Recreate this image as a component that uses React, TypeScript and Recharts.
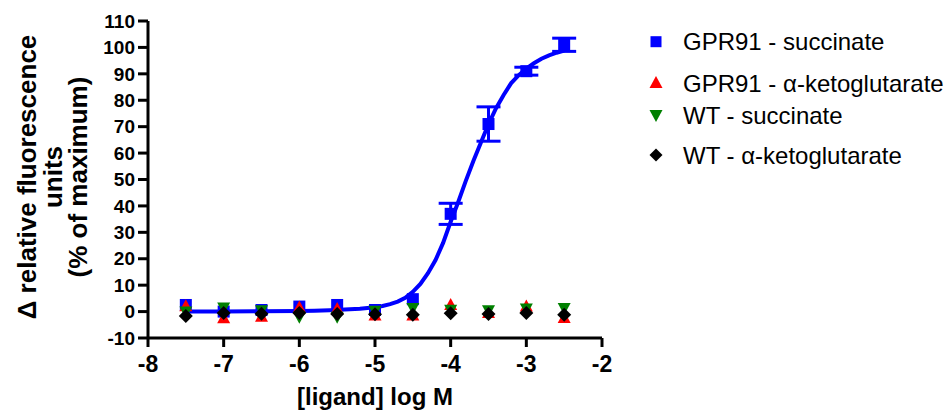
import React from 'react';
import { ScatterChart, Scatter, XAxis, YAxis, ErrorBar, Legend } from 'recharts';

const logConc = [-7.5, -7, -6.5, -6, -5.5, -5, -4.5, -4, -3.5, -3, -2.5];
const gprSuccinate = [2.5, 0, 0.6, 1.9, 2.5, 0.6, 4.7, 37, 71, 91, 101];
const gprSuccinateErr = [0, 0, 0, 0, 0, 0, 0, 4, 6.5, 1.5, 2.5];
const gprAkg = [2, -2.5, -2, 1.5, 1, -1.5, -1.5, 2.5, -0.5, 1.9, -2.4];
const wtSuccinate = [0, 1.5, 0.5, -2, -2, 0.3, 1.4, 0.7, 0.5, 1.2, 1.4];
const wtAkg = [-1.7, -0.5, -0.8, -0.5, -0.9, -1, -1.2, -0.6, -0.9, -0.5, -1.2];

const curveX = [-7.5, -7, -6.5, -6, -5.8, -5.6, -5.4, -5.2, -5, -4.9, -4.8, -4.7, -4.6, -4.5, -4.4, -4.3, -4.2, -4.1, -4.0, -3.9, -3.8, -3.7, -3.6, -3.5, -3.4, -3.3, -3.2, -3.1, -3.0, -2.9, -2.8, -2.7, -2.6, -2.5];
const curveY = [0, 0, 0.1, 0.2, 0.3, 0.5, 0.8, 1.1, 1.6, 2.1, 2.8, 3.8, 5.2, 7.5, 10.5, 14.5, 19.5, 26, 34, 41.5, 49.5, 57, 64, 71, 77, 82, 86.5, 89.5, 92, 94, 95.7, 97, 98, 98.8];

const xTicks = [-8, -7, -6, -5, -4, -3, -2];
const yTicks = [-10, 0, 10, 20, 30, 40, 50, 60, 70, 80, 90, 100, 110];

const seriesNames = ['GPR91 - succinate', 'GPR91 - \u03b1-ketoglutarate', 'WT - succinate', 'WT - \u03b1-ketoglutarate'];
const seriesColors = ['#0000ff', '#ff0000', '#008000', '#000000'];

const mk = (ys: number[], errs?: number[]) =>
  logConc.map((x, i) => ({ x, y: ys[i], err: errs ? errs[i] : 0 }));

const gprSuccData = mk(gprSuccinate, gprSuccinateErr);
const gprAkgData = mk(gprAkg);
const wtSuccData = mk(wtSuccinate);
const wtAkgData = mk(wtAkg);
const curveData = curveX.map((x, i) => ({ x, y: curveY[i] }));

const FONT = '"Liberation Sans", Arial, sans-serif';

const Square = (p: any) => (
  <rect x={p.cx - 6} y={p.cy - 6} width={12} height={12} fill={seriesColors[0]} />
);
const TriUp = (p: any) => (
  <polygon points={`${p.cx},${p.cy - 7} ${p.cx + 6.5},${p.cy + 5} ${p.cx - 6.5},${p.cy + 5}`} fill={seriesColors[1]} />
);
const TriDown = (p: any) => (
  <polygon points={`${p.cx},${p.cy + 7} ${p.cx + 6.5},${p.cy - 5} ${p.cx - 6.5},${p.cy - 5}`} fill={seriesColors[2]} />
);
const Diamond = (p: any) => (
  <polygon points={`${p.cx},${p.cy - 7} ${p.cx + 7},${p.cy} ${p.cx},${p.cy + 7} ${p.cx - 7},${p.cy}`} fill={seriesColors[3]} />
);
const NoDot = () => <g />;

const legendRows = [41.7, 83, 115, 155];

const LegendContent = () => (
  <svg width={951} height={200} style={{ display: 'block' }}>
    {seriesNames.map((name, i) => {
      const cy = legendRows[i];
      const cx = 656;
      let m;
      if (i === 0) m = <rect x={cx - 5.5} y={cy - 5.5} width={11} height={11} fill={seriesColors[0]} />;
      else if (i === 1) m = <polygon points={`${cx},${cy - 7} ${cx + 6.5},${cy + 5} ${cx - 6.5},${cy + 5}`} fill={seriesColors[1]} />;
      else if (i === 2) m = <polygon points={`${cx},${cy + 7} ${cx + 6.5},${cy - 5} ${cx - 6.5},${cy - 5}`} fill={seriesColors[2]} />;
      else m = <polygon points={`${cx},${cy - 6.5} ${cx + 6.5},${cy} ${cx},${cy + 6.5} ${cx - 6.5},${cy}`} fill={seriesColors[3]} />;
      return (
        <g key={name}>
          {m}
          <text x={683} y={cy + 8.5} fontFamily={FONT} fontSize={24} fill="#000">{name}</text>
        </g>
      );
    })}
  </svg>
);

export default function App() {
  return (
    <div style={{ position: 'absolute', left: 0, top: 0, width: 951, height: 412, background: '#fff' }}>
      <ScatterChart width={951} height={412} margin={{ top: 21, right: 349, left: 0, bottom: 0 }}>
        <XAxis
          type="number"
          dataKey="x"
          domain={[-8, -2]}
          ticks={xTicks}
          allowDataOverflow
          height={74}
          axisLine={{ stroke: '#000', strokeWidth: 3 }}
          tickLine={{ stroke: '#000', strokeWidth: 3 }}
          tickSize={9}
          tickMargin={9}
          tick={{ fill: '#000', fontSize: 23, fontWeight: 'bold', fontFamily: FONT }}
          label={{
            value: '[ligand] log M',
            position: 'insideBottom',
            offset: 7,
            style: { fill: '#000', fontSize: 24, fontWeight: 'bold', fontFamily: FONT },
          }}
        />
        <YAxis
          type="number"
          dataKey="y"
          domain={[-10, 110]}
          ticks={yTicks}
          allowDataOverflow
          width={148}
          axisLine={{ stroke: '#000', strokeWidth: 3 }}
          tickLine={{ stroke: '#000', strokeWidth: 3 }}
          tickSize={10}
          tickMargin={3}
          interval={0}
          tick={{ fill: '#000', fontSize: 19, fontWeight: 'bold', fontFamily: FONT }}
          label={{
            content: () => (
              <g fontFamily={FONT} fontSize={26} fontWeight="bold" fill="#000" textAnchor="middle">
                <text transform="translate(36,177) rotate(-90)">{'\u0394 relative fluorescence'}</text>
                <text transform="translate(61.5,177) rotate(-90)">units</text>
                <text transform="translate(87,177) rotate(-90)">(% of maximum)</text>
              </g>
            ),
          }}
        />
        <Legend
          layout="vertical"
          align="center"
          verticalAlign="middle"
          wrapperStyle={{ left: 0, top: 0, width: 951, height: 200, pointerEvents: 'none' }}
          content={() => <LegendContent />}
        />
        <Scatter
          name="fit"
          data={curveData}
          line={{ stroke: '#0000ff', strokeWidth: 4 }}
          shape={NoDot}
          legendType="none"
          isAnimationActive={false}
        />
        <Scatter name={seriesNames[0]} data={gprSuccData} shape={Square} fill={seriesColors[0]} isAnimationActive={false}>
          <ErrorBar dataKey="err" direction="y" width={12} stroke="#0000ff" strokeWidth={3} />
        </Scatter>
        <Scatter name={seriesNames[1]} data={gprAkgData} shape={TriUp} fill={seriesColors[1]} isAnimationActive={false} />
        <Scatter name={seriesNames[2]} data={wtSuccData} shape={TriDown} fill={seriesColors[2]} isAnimationActive={false} />
        <Scatter name={seriesNames[3]} data={wtAkgData} shape={Diamond} fill={seriesColors[3]} isAnimationActive={false} />
      </ScatterChart>
    </div>
  );
}
